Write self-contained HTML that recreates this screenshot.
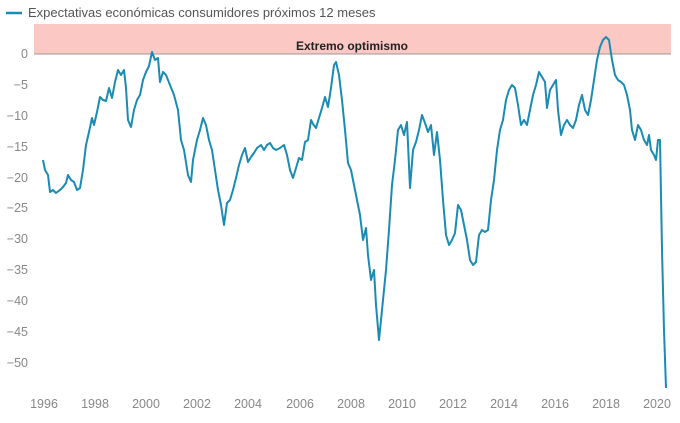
<!DOCTYPE html>
<html><head><meta charset="utf-8"><style>
body{margin:0;background:#fff;}
svg{display:block;font-family:"Liberation Sans",sans-serif;}
</style></head><body>
<svg width="680" height="423" viewBox="0 0 680 423">
<line x1="6" y1="13" x2="22" y2="13" stroke="#1a8bb3" stroke-width="2.5"/>
<text x="28" y="17" font-size="13" fill="#555">Expectativas económicas consumidores próximos 12 meses</text>
<rect x="34" y="24" width="637" height="30" fill="#fcc8c4"/>
<line x1="34" y1="54" x2="671" y2="54" stroke="#999" stroke-width="1"/>
<text x="352" y="50" font-size="12" font-weight="bold" fill="#222" text-anchor="middle">Extremo optimismo</text>
<g font-size="12.5" fill="#888" text-anchor="end">
<text x="28" y="58">0</text>
<text x="28" y="89">−5</text>
<text x="28" y="120">−10</text>
<text x="28" y="151">−15</text>
<text x="28" y="182">−20</text>
<text x="28" y="212">−25</text>
<text x="28" y="243">−30</text>
<text x="28" y="274">−35</text>
<text x="28" y="305">−40</text>
<text x="28" y="336">−45</text>
<text x="28" y="367">−50</text>
</g>
<g font-size="12.5" fill="#888" text-anchor="middle">
<text x="44" y="408">1996</text><text x="95" y="408">1998</text><text x="146" y="408">2000</text><text x="197" y="408">2002</text><text x="248" y="408">2004</text><text x="300" y="408">2006</text><text x="351" y="408">2008</text><text x="402" y="408">2010</text><text x="453" y="408">2012</text><text x="504" y="408">2014</text><text x="555" y="408">2016</text><text x="606" y="408">2018</text><text x="657" y="408">2020</text>
</g>
<polyline fill="none" stroke="#1a8bb3" stroke-width="2" stroke-linejoin="round" points="43,160 45,170 48,175 50,192 53,190 56,193 60,190 63,187 66,183 68,175 71,180 74,182 77,190 80,188 83,170 86,145 89,132 92,118 94,125 97,112 100,97 103,100 106,101 109,88 112,98 115,82 118,70 121,75 124,70 126,88 128,120 131,127 134,110 137,100 140,95 143,80 146,72 149,66 152,52 155,60 158,58 160,82 163,72 166,75 170,85 174,95 178,110 181,140 184,150 188,175 191,182 193,160 197,140 200,130 203,118 206,125 209,140 212,150 215,170 218,190 221,205 224,225 227,203 230,200 233,190 236,178 239,165 242,155 245,148 248,162 251,157 254,153 257,148 261,145 264,150 267,145 270,143 273,148 276,150 280,148 284,145 287,155 290,170 293,178 296,168 299,158 302,160 305,142 308,140 311,120 313,124 316,128 319,118 322,108 325,97 328,107 331,88 334,65 336,62 339,75 342,100 345,130 348,163 351,170 354,185 357,200 360,215 363,240 366,228 368,255 371,280 374,270 376,305 379,340 381,320 383,300 386,270 389,230 392,185 395,160 398,130 401,125 404,135 407,122 410,188 413,150 416,142 419,130 422,115 425,123 428,132 431,125 434,155 437,132 440,160 443,200 446,235 449,245 452,240 455,233 458,205 461,210 464,225 467,240 470,260 473,265 476,262 479,235 482,230 485,232 488,230 491,200 494,180 497,150 500,130 503,120 506,100 509,90 512,85 515,88 518,105 521,125 524,120 527,125 530,110 533,95 536,85 539,72 542,77 545,82 547,108 550,90 553,85 556,80 558,110 561,135 564,125 567,120 570,125 573,128 576,120 579,105 582,95 585,110 588,115 591,100 594,80 597,60 600,47 603,40 606,37 609,40 612,60 615,75 618,80 621,82 624,85 627,95 630,110 632,130 635,140 638,125 641,130 644,140 647,145 649,135 651,150 654,155 656,160 658,140 660,140 662,250 664,330 666,388"/>
</svg>
</body></html>
